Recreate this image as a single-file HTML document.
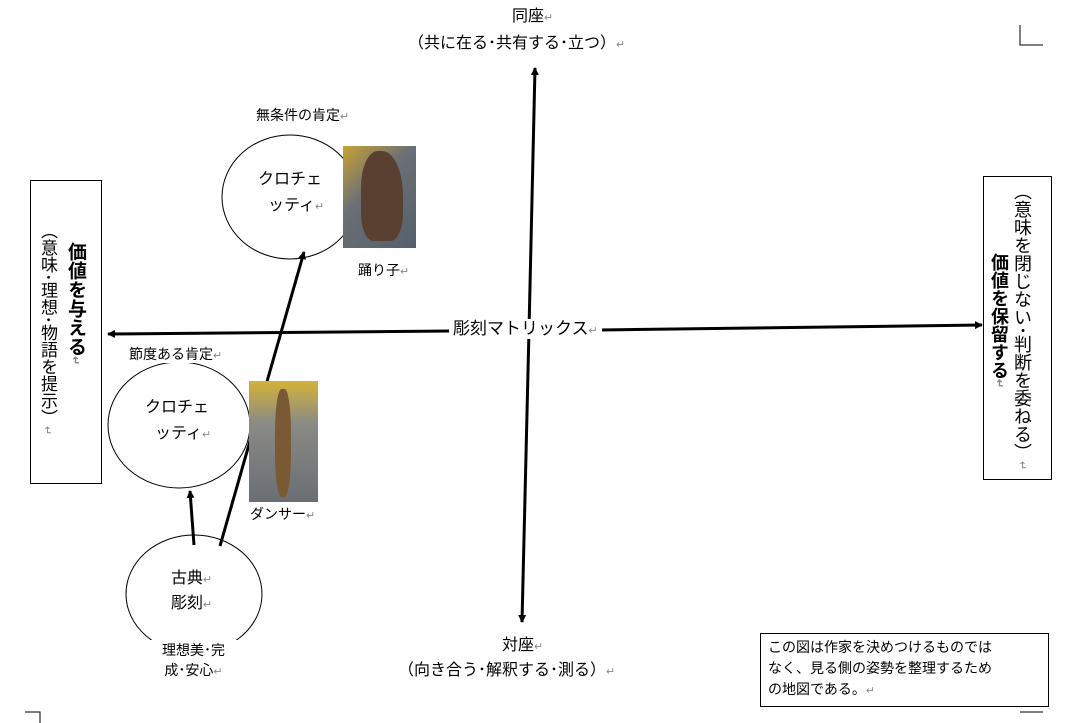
<!DOCTYPE html>
<html><head><meta charset="utf-8"><style>
body{margin:0;width:1091px;height:723px;background:#fff;position:relative;overflow:hidden;font-family:"Liberation Sans","Noto Sans CJK JP",sans-serif;color:#000}
.t{position:absolute;white-space:nowrap;line-height:1.2}
.r{color:#888;font-size:11px}
.v{writing-mode:vertical-rl;position:absolute;white-space:nowrap}
.img{position:absolute;overflow:hidden}
</style></head><body>
<svg width="1091" height="723" style="position:absolute;left:0;top:0">
<defs><marker id="a" markerWidth="8" markerHeight="8" refX="7" refY="4" orient="auto" markerUnits="userSpaceOnUse"><path d="M0,0L8,4L0,8z" fill="#000"/></marker></defs>
<g fill="none" stroke="#000" stroke-width="1">
<ellipse cx="290" cy="197" rx="68" ry="62"/>
<ellipse cx="179" cy="425" rx="71" ry="63"/>
<ellipse cx="194" cy="594" rx="68" ry="59"/>
<rect x="30.5" y="180.5" width="71" height="303"/>
<rect x="983.5" y="176.5" width="68" height="303"/>
<rect x="760.5" y="633.5" width="288" height="73"/>
<path d="M1020 25V45H1043M25 712H40V723M1020 712H1043"/>
</g>
<g stroke="#000" stroke-width="3" fill="none">
<line x1="529" y1="330" x2="535" y2="68" marker-end="url(#a)"/>
<line x1="529" y1="330" x2="522" y2="622" marker-end="url(#a)"/>
<line x1="600" y1="330" x2="982" y2="325" marker-end="url(#a)"/>
<line x1="450" y1="331" x2="108" y2="334" marker-end="url(#a)"/>
<line x1="220" y1="546" x2="304" y2="252" marker-end="url(#a)"/>
<line x1="194" y1="545" x2="190" y2="491" marker-end="url(#a)"/>
</g>
</svg>
<div class="img" style="left:343px;top:146px;width:73px;height:102px;background:linear-gradient(135deg,#c9a233 0%,#6b6f76 40%,#55606b 100%)"><div style="position:absolute;left:18px;top:5px;width:42px;height:90px;background:#5a4030;border-radius:40% 50% 30% 30%"></div></div>
<div class="img" style="left:249px;top:381px;width:69px;height:121px;background:linear-gradient(180deg,#d4b238 0%,#8a8a85 35%,#6a6e74 100%)"><div style="position:absolute;left:26px;top:8px;width:16px;height:108px;background:#7a5a35;border-radius:40%"></div></div>
<div class="t" style="left:449px;top:319px;font-size:17px;background:#fff;padding:0 4px">彫刻マトリックス<span class="r">↵</span></div>
<div class="t" style="left:512px;top:7px;font-size:16px">同座<span class="r">↵</span></div>
<div class="t" style="left:408px;top:34px;font-size:16px">（共に在る･共有する･立つ）<span class="r">↵</span></div>
<div class="t" style="left:502px;top:636px;font-size:16px">対座<span class="r">↵</span></div>
<div class="t" style="left:398px;top:661px;font-size:16px">（向き合う･解釈する･測る）<span class="r">↵</span></div>
<div class="t" style="left:256px;top:107px;font-size:14px;background:#fff">無条件の肯定<span class="r">↵</span></div>
<div class="t" style="left:258px;top:170px;font-size:16px">クロチェ</div>
<div class="t" style="left:268px;top:196px;font-size:16px">ッティ<span class="r">↵</span></div>
<div class="t" style="left:358px;top:262px;font-size:14px">踊り子<span class="r">↵</span></div>
<div class="t" style="left:129px;top:346px;font-size:14px;background:#fff">節度ある肯定<span class="r">↵</span></div>
<div class="t" style="left:145px;top:398px;font-size:16px">クロチェ</div>
<div class="t" style="left:155px;top:424px;font-size:16px">ッティ<span class="r">↵</span></div>
<div class="t" style="left:250px;top:506px;font-size:14px">ダンサー<span class="r">↵</span></div>
<div class="t" style="left:171px;top:569px;font-size:16px">古典<span class="r">↵</span></div>
<div class="t" style="left:171px;top:594px;font-size:16px">彫刻<span class="r">↵</span></div>
<div class="t" style="left:150px;top:640px;font-size:14px;background:#fff;padding:0 12px;text-align:center;line-height:20px">理想美･完<br>成･安心<span class="r">↵</span></div>
<div class="v" style="left:64px;top:242px;font-size:19px;font-weight:bold;line-height:22px">価値を与える<span class="r">↵</span></div>
<div class="v" style="left:37px;top:222px;font-size:17px;line-height:20px">（意味･理想･物語を提示）<span class="r">↵</span></div>
<div class="v" style="left:1011px;top:182px;font-size:18px;line-height:22px">（意味を閉じない･判断を委ねる）<span class="r">↵</span></div>
<div class="v" style="left:988px;top:253px;font-size:18px;font-weight:bold;line-height:22px">価値を保留する<span class="r">↵</span></div>
<div class="t" style="left:768px;top:637px;font-size:14px;line-height:21px">この図は作家を決めつけるものでは<br>なく、見る側の姿勢を整理するため<br>の地図である。<span class="r">↵</span></div>
</body></html>
